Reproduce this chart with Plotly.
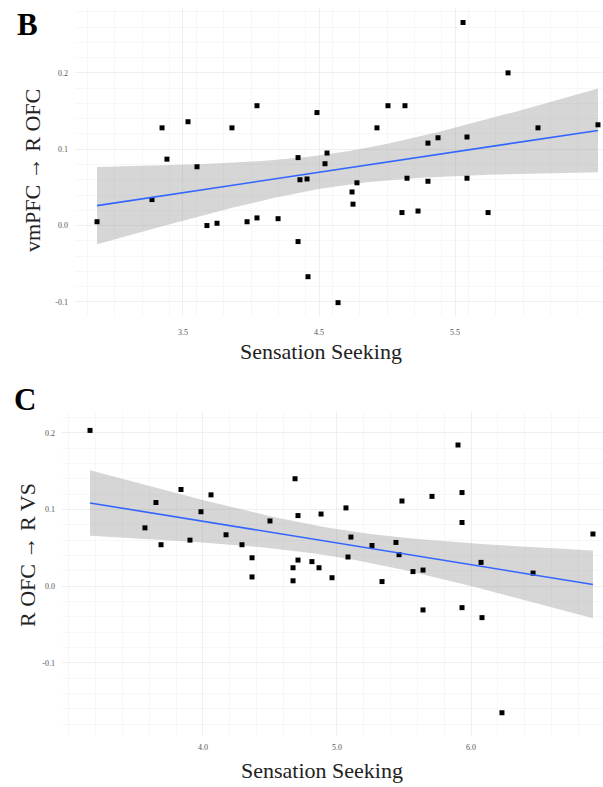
import numpy as np
import plotly.graph_objects as go

# ---------------- data ----------------
# Panel B: Sensation Seeking vs vmPFC -> R OFC
b_x = [2.868, 3.346, 3.537, 3.382, 3.603, 3.860, 4.044, 3.676, 3.750, 3.971,
       4.044, 4.199, 4.346, 4.346, 4.360, 3.272, 5.559, 5.890, 4.485, 5.007,
       5.132, 4.926, 5.301, 5.375, 5.588, 6.110, 6.551, 4.559, 4.544, 4.412,
       4.779, 4.743, 4.750, 5.147, 5.301, 5.588, 5.110, 5.228, 5.743, 4.419,
       4.640]
b_y = [0.005, 0.128, 0.136, 0.087, 0.077, 0.128, 0.157, 0.000, 0.003, 0.005,
       0.010, 0.009, -0.021, 0.089, 0.060, 0.034, 0.266, 0.200, 0.148, 0.157,
       0.157, 0.128, 0.108, 0.115, 0.116, 0.128, 0.132, 0.095, 0.081, 0.061,
       0.056, 0.044, 0.028, 0.062, 0.058, 0.062, 0.017, 0.019, 0.017, -0.067,
       -0.101]

# Panel C: Sensation Seeking vs R OFC -> R VS
c_x = [3.157, 4.687, 3.836, 4.060, 3.649, 3.985, 4.709, 3.567, 4.500, 3.687,
       3.903, 4.172, 4.291, 4.366, 4.366, 4.672, 4.672, 4.709, 5.903, 5.933,
       5.709, 5.485, 5.067, 4.881, 5.933, 6.910, 5.104, 5.440, 5.261, 5.463,
       5.082, 4.813, 4.866, 4.963, 5.336, 5.567, 5.642, 6.075, 6.463, 5.642,
       5.933, 6.082, 6.231]
c_y = [0.203, 0.140, 0.126, 0.119, 0.109, 0.097, 0.092, 0.076, 0.085, 0.054,
       0.060, 0.067, 0.054, 0.037, 0.012, 0.024, 0.007, 0.034, 0.184, 0.122,
       0.117, 0.111, 0.102, 0.094, 0.083, 0.068, 0.064, 0.057, 0.053, 0.041,
       0.038, 0.032, 0.024, 0.011, 0.006, 0.019, 0.021, 0.031, 0.017, -0.031,
       -0.028, -0.041, -0.165]

b_xticks = [3.5, 4.5, 5.5]
b_xlabels = ["3.5", "4.5", "5.5"]
b_yticks = [0.2, 0.1, 0.0, -0.1]
b_ylabels = ["0.2", "0.1", "0.0", "-0.1"]
c_xticks = [4.0, 5.0, 6.0]
c_xlabels = ["4.0", "5.0", "6.0"]
c_yticks = [0.2, 0.1, 0.0, -0.1]
c_ylabels = ["0.2", "0.1", "0.0", "-0.1"]

T_CRIT = 2.02  # 95% t quantile for ~40 df

W, H = 603, 787
FONT = "Liberation Serif"


def fit_band(x, y):
    x = np.asarray(x, float)
    y = np.asarray(y, float)
    n = len(x)
    b1, b0 = np.polyfit(x, y, 1)
    resid = y - (b0 + b1 * x)
    s = np.sqrt(np.sum(resid ** 2) / (n - 2))
    xs = np.linspace(x.min(), x.max(), 80)
    yh = b0 + b1 * xs
    se = s * np.sqrt(1 / n + (xs - x.mean()) ** 2 / np.sum((x - x.mean()) ** 2))
    return xs, yh, yh - T_CRIT * se, yh + T_CRIT * se


fig = go.Figure()

for (xd, yd, xa, ya) in [(b_x, b_y, "x", "y"), (c_x, c_y, "x2", "y2")]:
    xs, yh, lo, hi = fit_band(xd, yd)
    fig.add_trace(go.Scatter(
        x=np.concatenate([xs, xs[::-1]]), y=np.concatenate([hi, lo[::-1]]),
        fill="toself", fillcolor="rgba(153,153,153,0.4)", line=dict(width=0),
        mode="lines", hoverinfo="skip", showlegend=False, xaxis=xa, yaxis=ya))
    fig.add_trace(go.Scatter(
        x=xd, y=yd, mode="markers",
        marker=dict(color="black", size=5, symbol="square"),
        showlegend=False, xaxis=xa, yaxis=ya))
    fig.add_trace(go.Scatter(
        x=xs, y=yh, mode="lines", line=dict(color="#3366FF", width=1.6),
        showlegend=False, xaxis=xa, yaxis=ya))


def px_x(p):
    return p / W


def px_y(p):
    return 1 - p / H


axis_common = dict(
    showline=False, zeroline=False, ticks="",
    gridcolor="#efefef", gridwidth=1,
    tickfont=dict(family=FONT, size=8, color="#555555"),
    minor=dict(showgrid=True, gridcolor="#f7f7f7", gridwidth=1),
)

fig.update_layout(
    width=W, height=H,
    margin=dict(l=0, r=0, t=0, b=0),
    paper_bgcolor="white", plot_bgcolor="white",
    showlegend=False,
    xaxis=dict(domain=[px_x(75), px_x(603)], range=[2.706, 6.588],
               tickvals=b_xticks, ticktext=b_xlabels, anchor="y",
               ticklabelstandoff=10, **axis_common),
    yaxis=dict(domain=[px_y(316), px_y(8)], range=[-0.1185, 0.285],
               tickvals=b_yticks, ticktext=b_ylabels, anchor="x",
               ticklabelstandoff=6, **axis_common),
    xaxis2=dict(domain=[px_x(62), px_x(603)], range=[2.948, 6.985],
                tickvals=c_xticks, ticktext=c_xlabels, anchor="y2",
                ticklabelstandoff=6, **axis_common),
    yaxis2=dict(domain=[px_y(735), px_y(412)], range=[-0.194, 0.227],
                tickvals=c_yticks, ticktext=c_ylabels, anchor="x2",
                ticklabelstandoff=6, **axis_common),
)

ann = [
    dict(text="<b>B</b>", x=px_x(15), y=px_y(5), xanchor="left", yanchor="top",
         font=dict(family=FONT, size=31, color="black")),
    dict(text="<b>C</b>", x=px_x(12), y=px_y(380), xanchor="left", yanchor="top",
         font=dict(family=FONT, size=31, color="black")),
    dict(text="Sensation Seeking", x=px_x(321), y=px_y(351), xanchor="center",
         yanchor="middle", font=dict(family=FONT, size=22, color="#222")),
    dict(text="Sensation Seeking", x=px_x(322), y=px_y(770), xanchor="center",
         yanchor="middle", font=dict(family=FONT, size=22, color="#222")),
    dict(text="vmPFC → R OFC", x=px_x(33), y=px_y(171), xanchor="center",
         yanchor="middle", textangle=-90,
         font=dict(family=FONT, size=22, color="#222")),
    dict(text="R OFC → R VS", x=px_x(27), y=px_y(555), xanchor="center",
         yanchor="middle", textangle=-90,
         font=dict(family=FONT, size=22, color="#222")),
]
for a in ann:
    a.update(xref="paper", yref="paper", showarrow=False)
fig.update_layout(annotations=ann)

fig.write_html("out.html")
